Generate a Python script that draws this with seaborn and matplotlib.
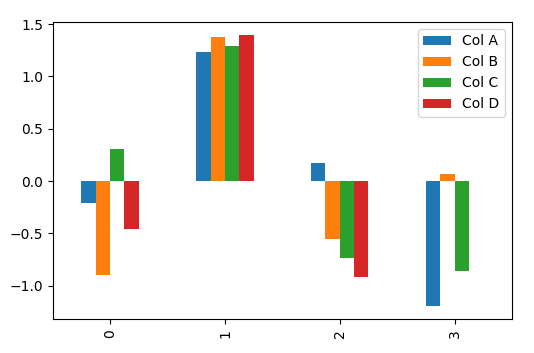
import matplotlib
matplotlib.use("Agg")
import matplotlib.pyplot as plt
import seaborn as sns
import pandas as pd

index = ["0", "1", "2", "3"]
col_a = [-0.207, 1.234, 0.175, -1.193]
col_b = [-0.897, 1.381, -0.553, 0.070]
col_c = [0.305, 1.288, -0.738, -0.856]
col_d = [-0.461, 1.393, -0.919, 0.0]
series_names = ["Col A", "Col B", "Col C", "Col D"]

wide = pd.DataFrame({"Col A": col_a, "Col B": col_b, "Col C": col_c, "Col D": col_d}, index=index)
long = wide.reset_index().melt(id_vars="index", var_name="col", value_name="value")

colors = ["#1f77b4", "#ff7f0e", "#2ca02c", "#d62728"]

fig = plt.figure(figsize=(5.34, 3.53), dpi=100)
ax = fig.add_axes([0.0987, 0.0955, 0.9588 - 0.0987, 0.9377 - 0.0955])
sns.barplot(data=long, x="index", y="value", hue="col", hue_order=series_names,
            palette=colors, saturation=1, width=0.5, errorbar=None,
            linewidth=0, ax=ax)
ax.set_xlim(-0.5, 3.5)
ax.set_ylim(-1.32, 1.52)
ax.set_xlabel("")
ax.set_ylabel("")
ax.tick_params(axis="x", labelrotation=90)
handles, labels = ax.get_legend_handles_labels()
ax.legend(handles, labels, loc="upper right")
fig.savefig("out.png", dpi=100)
